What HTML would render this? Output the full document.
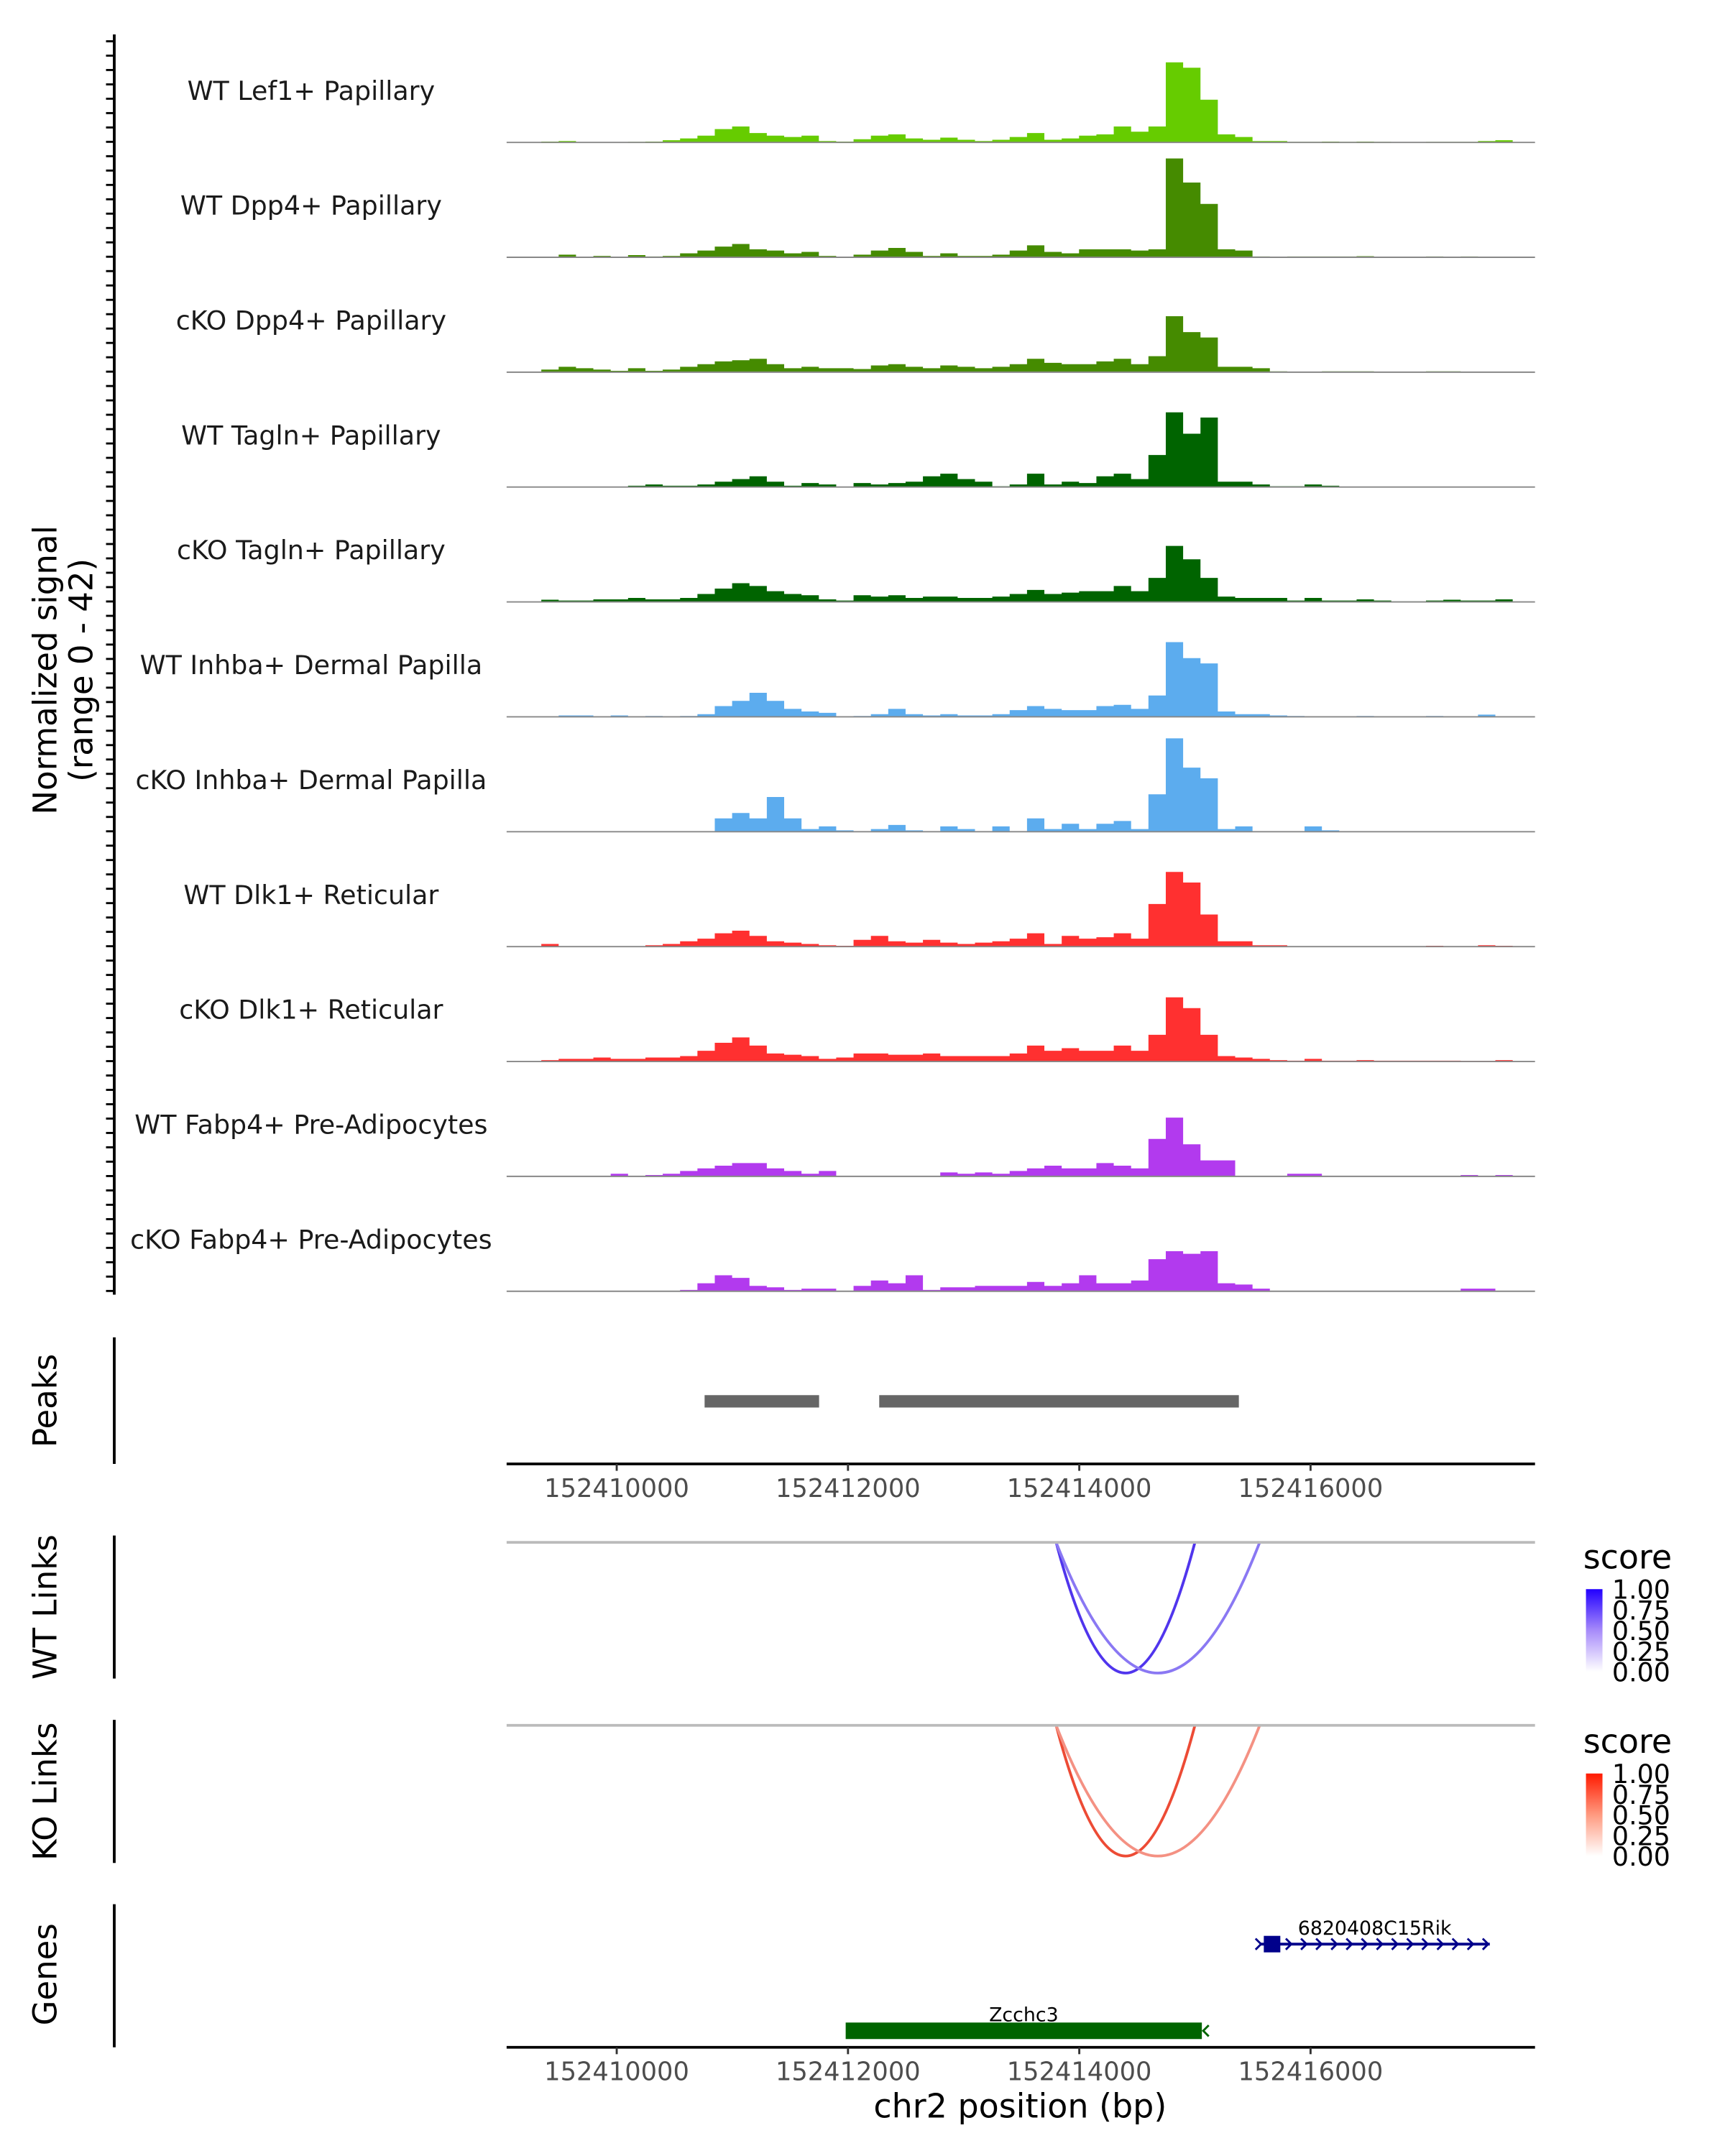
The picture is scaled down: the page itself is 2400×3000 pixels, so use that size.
<!DOCTYPE html>
<html><head><meta charset="utf-8"><style>
html,body{margin:0;padding:0;background:#fff}
svg{display:block;font-family:"DejaVu Sans","Liberation Sans",sans-serif}
</style></head><body>
<svg id="chart" width="2400" height="3000" viewBox="0 0 1253 1567" preserveAspectRatio="none" xmlns="http://www.w3.org/2000/svg">
<defs>
<linearGradient id="gBlue" x1="0" y1="1" x2="0" y2="0"><stop offset="0" stop-color="#fff"/><stop offset="0.5" stop-color="#a78bfa"/><stop offset="1" stop-color="#2200ff"/></linearGradient>
<linearGradient id="gRed" x1="0" y1="1" x2="0" y2="0"><stop offset="0" stop-color="#fff"/><stop offset="0.5" stop-color="#ff9a80"/><stop offset="1" stop-color="#ff1a00"/></linearGradient>
</defs>
<g id="tracks"></g>
<g id="static">
<line x1="83" y1="25" x2="83" y2="941" stroke="#000" stroke-width="2"/>
<g transform="translate(41,487) rotate(-90)"><text text-anchor="middle" font-size="23.5" y="0">Normalized signal</text><text text-anchor="middle" font-size="23.5" y="26">(range 0 - 42)</text></g>
<line x1="83" y1="972" x2="83" y2="1064" stroke="#000" stroke-width="2"/>
<text transform="translate(41,1018) rotate(-90)" text-anchor="middle" font-size="23.5">Peaks</text>
<line x1="83" y1="1116" x2="83" y2="1220" stroke="#000" stroke-width="2"/>
<text transform="translate(41,1168) rotate(-90)" text-anchor="middle" font-size="23.5">WT Links</text>
<line x1="83" y1="1250" x2="83" y2="1354" stroke="#000" stroke-width="2"/>
<text transform="translate(41,1302) rotate(-90)" text-anchor="middle" font-size="23.5">KO Links</text>
<line x1="83" y1="1384" x2="83" y2="1488" stroke="#000" stroke-width="2"/>
<text transform="translate(41,1435) rotate(-90)" text-anchor="middle" font-size="23.5">Genes</text>
<line x1="368" y1="1121" x2="1115" y2="1121" stroke="#bbb" stroke-width="2"/>
<line x1="368" y1="1254" x2="1115" y2="1254" stroke="#bbb" stroke-width="2"/>
<g>
<text x="1150" y="1140" font-size="24">score</text>
<rect x="1152" y="1155" width="12" height="60" fill="url(#gBlue)"/>
<g font-size="19"><text x="1171" y="1162">1.00</text><text x="1171" y="1177">0.75</text><text x="1171" y="1192">0.50</text><text x="1171" y="1207">0.25</text><text x="1171" y="1222">0.00</text></g>
</g>
<g>
<text x="1150" y="1274" font-size="24">score</text>
<rect x="1152" y="1289" width="12" height="60" fill="url(#gRed)"/>
<g font-size="19"><text x="1171" y="1296">1.00</text><text x="1171" y="1311">0.75</text><text x="1171" y="1326">0.50</text><text x="1171" y="1341">0.25</text><text x="1171" y="1356">0.00</text></g>
</g>
<text x="741" y="1539" text-anchor="middle" font-size="24">chr2 position (bp)</text>
</g>
</svg>
<script>
const trackNames=["WT Lef1+ Papillary","WT Dpp4+ Papillary","cKO Dpp4+ Papillary","WT Tagln+ Papillary","cKO Tagln+ Papillary","WT Inhba+ Dermal Papilla","cKO Inhba+ Dermal Papilla","WT Dlk1+ Reticular","cKO Dlk1+ Reticular","WT Fabp4+ Pre-Adipocytes","cKO Fabp4+ Pre-Adipocytes"];
const trackColors=["#66cc00","#458b00","#458b00","#006400","#006400","#5cacee","#5cacee","#ff3030","#ff3030","#b23aee","#b23aee"];
const sLef1WT=[0,0,0.3,0.5,0,0,0,0.2,0.3,0.8,1.5,2.5,5,6,3.5,2.5,2,2.5,0.5,0.3,1.2,2.5,3,1.5,1,1.8,1,0.5,1,2,3.5,1,1.5,2.5,3,6,4,6,30,28,16,3,2,0.5,0.5,0.2,0.2,0.3,0.2,0.3,0.2,0.1,0.1,0.2,0.2,0.2,0.5,0.8,0];
const sDpp4WT=[0,0,0,1,0,0.5,0,0.8,0.3,0.5,1.5,2.5,4,5,3,2.5,1.5,2,0.5,0,1,2.5,3.5,2,0.5,1.5,0.5,0.5,1,2.5,4.5,2,1.5,3,3,3,2.5,3,37,28,20,3,2.5,0.3,0.2,0.3,0.3,0.3,0.3,0.4,0,0,0,0.3,0.2,0.3,0,0,0];
const sDpp4KO=[0,0,1,2,1.5,1,0.5,1.5,0.5,1,2,3,4,4.5,5,3,1.5,2,1.5,1.5,1.2,2.5,3,2,1.5,2.5,2,1.5,2,3,5,3.5,3,3,4,5,3,6,21,15,13,2,2,1.5,0.3,0.2,0.2,0.3,0.3,0.3,0.2,0.2,0.2,0.3,0.3,0.2,0.2,0,0];
const sTaglnWT=[0,0,0,0,0,0,0,0.5,1,0.5,0.5,1,2,3,4,2,0.5,1.5,1,0,1.5,1,1.5,2,4,5,3,2,0.3,1,5,1,2,1.5,4,5,3,12,28,20,26,2,2,1,0.3,0.3,1,0.5,0,0,0,0,0,0,0,0,0,0,0];
const sTaglnKO=[0,0,0.8,0.5,0.5,1,1,1.5,1,1,1.5,3,5,7,6,4,3,2.5,1,0.5,2.5,2,2.5,1.5,2,2,1.5,1.5,2,3,4.5,3,3.5,4,4,6,4,9,21,16,9,2,1.5,1.5,1.5,0.5,1.5,0.5,0.5,1,0.5,0.2,0.2,0.5,0.8,0.5,0.5,1,0];
const sInhbaWT=[0,0,0,0.5,0.5,0,0.5,0,0.3,0,0.3,1,4,6,9,6,3,2,1.5,0,0.3,1,3,1,0.5,1,0.5,0.5,1,2.5,4,3,2.5,2.5,4,4.5,3,8,28,22,20,2,1,1,0.5,0.3,0,0,0,0.3,0,0,0,0.3,0,0,0.8,0,0];
const sInhbaKO=[0,0,0,0,0,0,0,0,0,0,0,0,5,7,5,13,5,1,2,0.5,0,1,2.5,0.5,0,2,1,0,2,0,5,1,3,1,3,4,1,14,35,24,20,1,2,0,0,0,2,0.5,0,0,0,0,0,0,0,0,0,0,0];
const sDlk1WT=[0,0,1,0,0,0,0,0,0.5,1,2,3,5,6,4,2,1.5,1,0.5,0.3,2.5,4,2,1.5,2.5,1.5,1,1.5,2,3,5,1,4,3,3.5,5,3,16,28,24,12,2,2,0.5,0.5,0,0,0,0,0,0,0,0,0.3,0,0,0.5,0.3,0];
const sDlk1KO=[0,0,0.5,1,1,1.5,1,1,1.5,1.5,2,4,7,9,6,3,2.5,2,1,1.5,3,3,2.5,2.5,3,2,2,2,2,3,6,4,5,4,4,6,4,10,24,20,10,2,1.5,1,0.5,0.3,1,0.3,0.3,0.5,0.3,0.3,0.3,0.3,0.3,0.2,0.2,0.5,0];
const sFabp4WT=[0,0,0,0,0,0,1,0,0.5,1,2,3,4,5,5,3,2,1,2,0,0,0,0,0,0,1.5,1,1.5,1,2,3,4,3,3,5,4,3,14,22,12,6,6,0,0,0,1,1,0,0,0,0,0,0,0,0,0.5,0,0.5,0];
const sFabp4KO=[0,0,0,0,0,0,0,0,0,0,0.5,3,6,5,2,1.5,0.5,1,1,0,2,4,3,6,0.5,1.5,1.5,2,2,2,3.5,2,3,6,3,3,4,12,15,14,15,3,2.5,1,0,0,0,0,0,0,0,0,0,0,0,1,1,0,0];
const signals=[sLef1WT,sDpp4WT,sDpp4KO,sTaglnWT,sTaglnKO,sInhbaWT,sInhbaKO,sDlk1WT,sDlk1KO,sFabp4WT,sFabp4KO];
const regionStart=152409048, regionEnd=152417941, binSize=150, signalMax=42;
const xTicks=[152410000,152412000,152414000,152416000];
const peakStarts=[152410760,152412270];
const peakEnds=[152411750,152415380];
const linkStarts=[152413800,152413800];
const linkEnds=[152415000,152415560];
const wtLinkScores=[0.9,0.6];
const koLinkScores=[0.9,0.55];
const geneNames=["6820408C15Rik","Zcchc3"];
const geneStarts=[152415560,152411980];
const geneEnds=[152417550,152415060];
const geneStrand=["+","-"];

const NS="http://www.w3.org/2000/svg";
const X0=368,X1=1115;
function xScale(bp){return X0+(bp-regionStart)/(regionEnd-regionStart)*(X1-X0);}
const trackTop=20,trackH=83.5;
function el(tag,attrs,parent){const e=document.createElementNS(NS,tag);for(const k in attrs)e.setAttribute(k,attrs[k]);parent.appendChild(e);return e;}
const root=document.getElementById('tracks');

for(let y=30;y<=940;y+=10.44){
  const t=el('line',{x1:77,x2:83,y1:y,y2:y,stroke:'#000','stroke-width':1.5},root);
  
  
}
signals.forEach((vals,ti)=>{
  const base=trackTop+trackH*(ti+1);
  const g=el('g',{},root);
  
  
  let d='M'+X0+','+base;
  vals.forEach((v,i)=>{
    const xa=Math.max(X0,xScale(regionStart+i*binSize)),xb=Math.min(X1,xScale(regionStart+(i+1)*binSize));
    const y=base-v/signalMax*(trackH-2);
    d+=' L'+xa.toFixed(1)+','+y.toFixed(1)+' L'+xb.toFixed(1)+','+y.toFixed(1);
  });
  d+=' L'+X1+','+base+' Z';
  const p=el('path',{d:d,fill:trackColors[ti]},g);
  
  
  const bl=el('line',{x1:X0,x2:X1,y1:base,y2:base,stroke:'#888','stroke-width':1},g);
  
  
  const lab=el('text',{x:226,y:base-31,'text-anchor':'middle','font-size':19,fill:'#1a1a1a'},g);
  lab.textContent=trackNames[ti];
  
  
});
peakStarts.forEach((s,i)=>{
  const r=el('rect',{x:xScale(s),y:1014,width:xScale(peakEnds[i])-xScale(s),height:9,fill:'#666'},root);
  
  
});
function xAxis(y){
  const a=el('line',{x1:X0,x2:X1,y1:y,y2:y,stroke:'#000','stroke-width':2},root);
  
  
  xTicks.forEach(t=>{
    const x=xScale(t);
    const tk=el('line',{x1:x,x2:x,y1:y,y2:y+5,stroke:'#333','stroke-width':1.5},root);
    
    
    const tl=el('text',{x:x,y:y+24,'text-anchor':'middle','font-size':18.4,fill:'#4d4d4d'},root);
    tl.textContent=String(t);
    
    
  });
}
xAxis(1064);xAxis(1488);
function links(top,scores,kind){
  scores.forEach((s,i)=>{
    const xa=xScale(linkStarts[i]),xb=xScale(linkEnds[i]);
    const depth=95;
    const cx=(xa+xb)/2;
    const col=kind==='b'?`rgb(${Math.round(255-(255-60)*s)},${Math.round(255-(255-30)*s)},${Math.round(255-(255-235)*s)})`:`rgb(${Math.round(255-(255-235)*s)},${Math.round(255-(255-55)*s)},${Math.round(255-(255-30)*s)})`;
    const p=el('path',{d:`M${xa},${top} Q${cx},${top+2*depth} ${xb},${top}`,fill:'none',stroke:col,'stroke-width':2},root);
    
    
  });
}
links(1121,wtLinkScores,'b');
links(1254,koLinkScores,'r');
geneNames.forEach((n,i)=>{
  const xa=xScale(geneStarts[i]),xb=xScale(geneEnds[i]);
  const g=el('g',{},root);
  
  
  if(geneStrand[i]==='+'){
    const y=1413;
    el('line',{x1:xa,x2:xb,y1:y,y2:y,stroke:'#00008b','stroke-width':2},g);
    el('rect',{x:xa+3,y:y-6,width:12,height:12,fill:'#00008b'},g);
    for(let x=xa;x<=xb;x+=11){el('path',{d:`M${x-3},${y-4} L${x+1},${y} L${x-3},${y+4}`,fill:'none',stroke:'#00008b','stroke-width':1.5},g);}
    const t=el('text',{x:(xa+xb)/2,y:y-7,'text-anchor':'middle','font-size':14},g);t.textContent=n;
  }else{
    const y=1476;
    el('rect',{x:xa,y:y-6,width:xb-xa,height:12,fill:'#006400'},g);
    el('path',{d:`M${xb+5},${y-4} L${xb+1},${y} L${xb+5},${y+4}`,fill:'none',stroke:'#006400','stroke-width':1.5},g);
    const t=el('text',{x:(xa+xb)/2,y:y-7,'text-anchor':'middle','font-size':14},g);t.textContent=n;
  }
});
</script>
</body></html>
